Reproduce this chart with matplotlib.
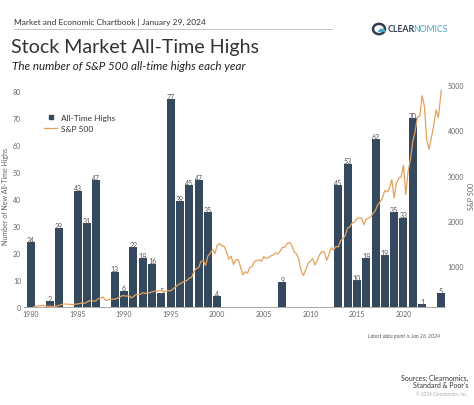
import matplotlib
matplotlib.use("Agg")
import matplotlib.pyplot as plt
from matplotlib.patches import Circle, Wedge
from matplotlib.lines import Line2D
import numpy as np

plt.rcParams['font.family'] = ['Lato', 'DejaVu Sans']

# all-time highs per year
years = list(range(1980, 2025))
highs = [24, 0, 2, 29, 0, 43, 31, 47, 0, 13,
         6, 22, 18, 16, 5, 77, 39, 45, 47, 35,
         4, 0, 0, 0, 0, 0, 0, 9, 0, 0,
         0, 0, 0, 45, 53, 10, 18, 62, 19, 35,
         33, 70, 1, 0, 5]

# S&P 500 quarter-end levels (approx), last point Jan 26, 2024
spx_dates = [1980 + q * 0.25 for q in range(1, 177)] + [2024.07]
spx = [102, 114, 125, 136,
       136, 131, 116, 122,
       112, 110, 120, 140,
       153, 168, 166, 165,
       159, 153, 166, 167,
       181, 191, 182, 211,
       238, 250, 231, 242,
       291, 304, 321, 247,
       258, 273, 271, 277,
       294, 317, 349, 353,
       339, 358, 306, 330,
       375, 371, 387, 417,
       403, 408, 417, 435,
       451, 450, 458, 466,
       445, 444, 462, 459,
       500, 544, 584, 615,
       645, 670, 687, 740,
       757, 885, 947, 970,
       1101, 1133, 1017, 1229,
       1286, 1372, 1282, 1469,
       1498, 1454, 1436, 1320,
       1160, 1224, 1040, 1148,
       1147, 990, 815, 880,
       848, 975, 996, 1112,
       1126, 1141, 1114, 1212,
       1181, 1191, 1229, 1248,
       1295, 1270, 1336, 1418,
       1421, 1503, 1527, 1468,
       1323, 1280, 1166, 903,
       798, 919, 1057, 1115,
       1169, 1031, 1141, 1258,
       1326, 1321, 1131, 1258,
       1408, 1362, 1441, 1426,
       1569, 1606, 1682, 1848,
       1872, 1960, 1972, 2059,
       2068, 2063, 1920, 2044,
       2060, 2099, 2168, 2239,
       2363, 2423, 2519, 2674,
       2641, 2718, 2914, 2507,
       2834, 2942, 2977, 3231,
       2585, 3100, 3363, 3756,
       3973, 4298, 4308, 4766,
       4530, 3785, 3586, 3840,
       4109, 4450, 4288, 4770,
       4891]

bar_color = '#34495e'
line_color = '#e3a15c'
tick_color = '#666666'

fig = plt.figure(figsize=(4.74, 4.06), dpi=100)
ax = fig.add_axes([0.0506, 0.242, 0.888, 0.546])
ax2 = ax.twinx()

bars = ax.bar(years, highs, width=0.86, color=bar_color, zorder=2)
for x, h in zip(years, highs):
    if h > 0:
        ax.text(x, h - 0.3, str(h), ha='center', va='bottom', fontsize=5, color='#555555')

ax2.plot(spx_dates, spx, color=line_color, lw=0.9)
ax.set_zorder(1)
ax2.set_zorder(2)
ax2.patch.set_visible(False)

ax.set_xlim(1979.25, 2024.45)
ax.set_ylim(0, 82.1)
ax2.set_ylim(108, 5000)

ax.set_xticks(range(1980, 2021, 5))
ax.set_yticks(range(0, 81, 10))
ax2.set_yticks(range(1000, 5001, 1000))

for a in (ax, ax2):
    for s in a.spines.values():
        s.set_visible(False)
    a.tick_params(length=0, labelsize=5, colors=tick_color, pad=2)
ax.spines['bottom'].set_visible(True)
ax.spines['bottom'].set_color('#999999')
ax.spines['bottom'].set_linewidth(0.6)

ax.set_ylabel('Number of New All-Time Highs', fontsize=5, color=tick_color, labelpad=3)
ax2.set_ylabel('S&P 500', fontsize=5, color=tick_color, labelpad=3)

handles = [Line2D([], [], marker='s', color='none', markerfacecolor=bar_color,
                  markeredgecolor=bar_color, markersize=3.5),
           Line2D([], [], color=line_color, lw=0.9)]
ax.legend(handles, ['All-Time Highs', 'S&P 500'], loc='upper left',
          bbox_to_anchor=(0.03, 0.905), frameon=False, fontsize=6,
          handlelength=1.6, handletextpad=0.4, labelspacing=0.5, labelcolor='#333333')

# header
fig.text(14 / 474, 1 - 22 / 406, 'Market and Economic Chartbook | January 29, 2024',
         fontsize=6.0, color='#333333', va='center')
fig.add_artist(Line2D([14 / 474, 332 / 474], [1 - 29.5 / 406] * 2, color='#bbbbbb', lw=0.6))
fig.text(11 / 474, 1 - 47 / 406, 'Stock Market All-Time Highs', fontsize=14.1,
         color='#333333', va='center')
fig.text(12 / 474, 1 - 67 / 406, 'The number of S&P 500 all-time highs each year',
         fontsize=8.4, style='italic', color='#222222', va='center')

# logo
fig.add_artist(Circle((379 / 474, 1 - 30 / 406), 6 / 474, transform=fig.transFigure,
                      facecolor='none', edgecolor='#2c3e50', lw=1.8))
fig.add_artist(Wedge((382 / 474, 1 - 33 / 406), 4 / 474, 0, 180, transform=fig.transFigure,
                     facecolor='#4aa3c8', edgecolor='none'))
fig.text(388 / 474, 1 - 30 / 406, 'CLEAR', fontsize=6.3, weight='bold',
         color='#2c3e50', va='center')
fig.text(413 / 474, 1 - 30 / 406, 'NOMICS', fontsize=6.3, color='#4aa3c8', va='center')

# footnotes
fig.text(440 / 474, 1 - 336 / 406, 'Latest data point is Jan 26, 2024', fontsize=3.8,
         style='italic', color='#555555', ha='right', va='center')
fig.text(468 / 474, 1 - 378 / 406, 'Sources: Clearnomics,', fontsize=5,
         color='#333333', ha='right', va='center')
fig.text(468 / 474, 1 - 386 / 406, "Standard & Poor's", fontsize=5,
         color='#333333', ha='right', va='center')
fig.text(468 / 474, 1 - 395 / 406, '\u00a9 2024 Clearnomics, Inc.', fontsize=3.3,
         color='#aaaaaa', ha='right', va='center')

fig.savefig('out.png', dpi=100)
